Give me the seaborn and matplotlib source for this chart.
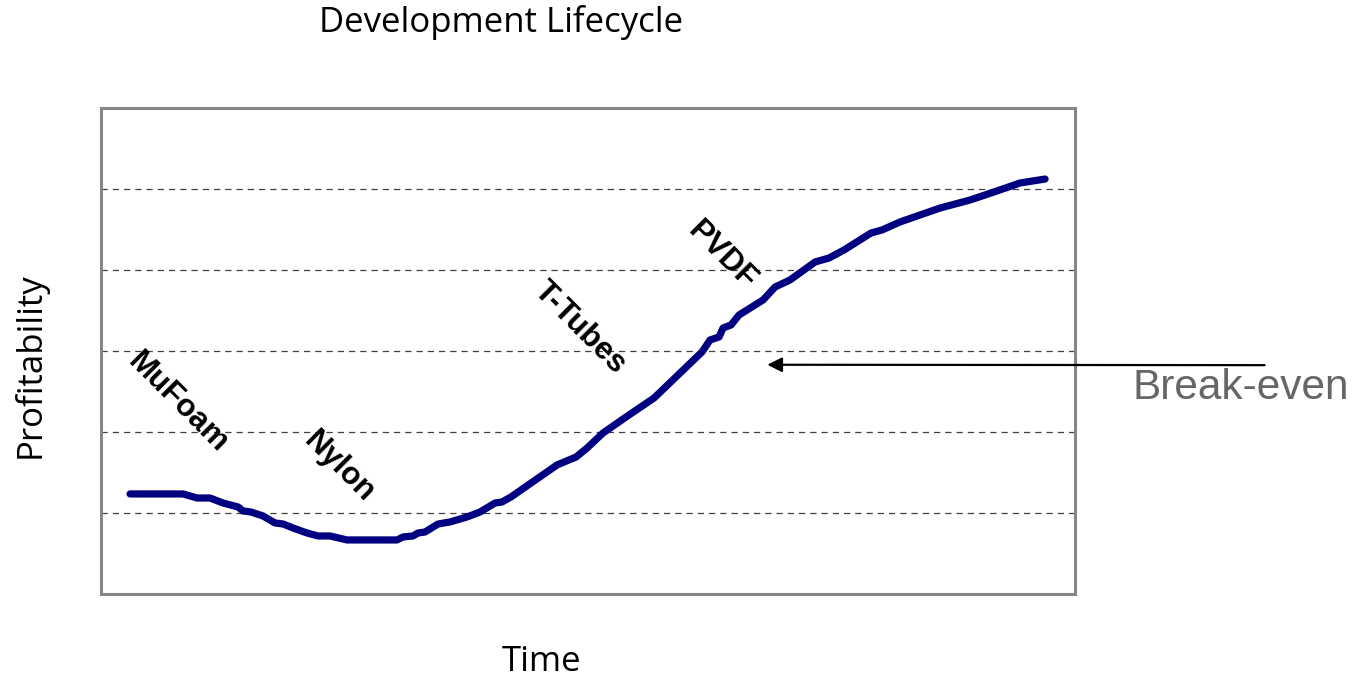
import numpy as np
import pandas as pd
import matplotlib
matplotlib.use("Agg")
import matplotlib.pyplot as plt
import seaborn as sns

# --- data (time vs profitability, arbitrary units) ---
time = [2.98, 8.42, 9.86, 11.19, 12.53, 14.07, 14.58, 15.40, 16.63, 17.86,
        18.69, 19.71, 21.15, 22.28, 23.51, 25.26, 30.39, 31.01, 32.03, 32.55,
        33.26, 34.60, 35.83, 37.58, 38.91, 40.45, 41.17, 42.09, 46.82, 48.77,
        49.90, 51.54, 53.90, 56.78, 61.70, 62.53, 63.45, 63.86, 64.68, 65.50,
        67.97, 69.20, 70.74, 73.31, 74.74, 76.28, 79.06, 80.18, 82.03, 86.14,
        89.22, 91.38, 94.35, 96.92]
profit = [1.235, 1.235, 1.185, 1.185, 1.123, 1.074, 1.025, 1.012, 0.963, 0.877,
          0.864, 0.815, 0.753, 0.716, 0.716, 0.667, 0.667, 0.704, 0.716, 0.753,
          0.765, 0.864, 0.889, 0.951, 1.012, 1.123, 1.136, 1.198, 1.593, 1.691,
          1.802, 1.988, 2.185, 2.420, 2.988, 3.136, 3.173, 3.284, 3.321, 3.444,
          3.630, 3.790, 3.877, 4.099, 4.148, 4.247, 4.457, 4.494, 4.593, 4.765,
          4.864, 4.951, 5.074, 5.123]

phase_names = ["MuFoam", "Nylon", "T-Tubes", "PVDF"]
phase_x = [7.9, 24.5, 49.2, 63.8]
phase_y = [2.36, 1.57, 3.28, 4.17]

grid_levels = [1, 2, 3, 4, 5]
breakeven_x = 68.4
breakeven_y = 2.83

df = pd.DataFrame({"Time": time, "Profitability": profit})

sns.set_style("white")

fig = plt.figure(figsize=(13.54, 6.8), dpi=100)
ax = fig.add_axes([0.0746, 0.1265, 0.7194, 0.7147])

for g in grid_levels:
    ax.axhline(g, color="#404040", lw=0.9, ls=(0, (5, 4)), zorder=1)

sns.lineplot(data=df, x="Time", y="Profitability", color="#000080", lw=5.2,
             solid_capstyle="round", solid_joinstyle="round", ax=ax, zorder=3)

for name, x, y in zip(phase_names, phase_x, phase_y):
    ax.text(x, y, name, rotation=-45, ha="center", va="center",
            fontsize=22.5, fontweight="bold", family="Liberation Sans",
            color="black", rotation_mode="anchor")

ax.set_xlim(0, 100)
ax.set_ylim(0, 6)
ax.set_xticks([])
ax.set_yticks([])
ax.set_xlabel("")
ax.set_ylabel("")
for s in ax.spines.values():
    s.set_visible(True)
    s.set_color("#868686")
    s.set_linewidth(2.2)

# break-even arrow and label
ax.annotate("", xy=(breakeven_x, breakeven_y), xycoords="data",
            xytext=(0.934, 0.463), textcoords="figure fraction",
            arrowprops=dict(arrowstyle="-|>", color="black", lw=1.6,
                            mutation_scale=22, shrinkA=0, shrinkB=0),
            annotation_clip=False)
fig.text(0.916, 0.429, "Break-even", ha="center", va="center", fontsize=30.5,
         color="#666666", family="Liberation Sans")

fig.text(0.370, 0.967, "Development Lifecycle", ha="center", va="center",
         fontsize=25, family="Open Sans", color="black")
fig.text(0.400, 0.026, "Time", ha="center", va="center",
         fontsize=25, family="Open Sans", color="black")
fig.text(0.022, 0.463, "Profitability", ha="center", va="center",
         fontsize=25, rotation=90, family="Open Sans", color="black")

fig.savefig("out.png", dpi=100)
